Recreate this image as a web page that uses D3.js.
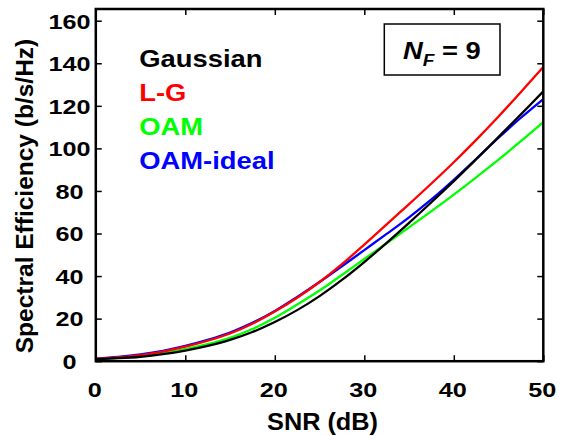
<!DOCTYPE html>
<html>
<head>
<meta charset="utf-8">
<script src="https://cdn.jsdelivr.net/npm/d3@7"></script>
<style>
  body { margin: 0; background: #fff; }
  text { font-family: "Liberation Sans", Arial, sans-serif; font-weight: bold; }
</style>
</head>
<body>
<script>
// SNR samples (dB) and spectral efficiency
const snr = [0, 2.5, 5, 7.5, 10, 12.5, 15, 17.5, 20, 22.5, 25, 27.5, 30, 32.5, 35, 37.5, 40, 42.5, 45, 47.5, 50];
const gaussian = [1.0, 1.4, 2.1, 3.3, 5.0, 7.2, 10.0, 13.7, 18.4, 24.0, 30.6, 38.2, 46.6, 55.6, 65.0, 74.7, 84.6, 94.9, 105.4, 116.0, 126.8];
const lg = [1.1, 1.8, 2.9, 4.5, 6.8, 9.6, 13.0, 17.6, 23.3, 29.8, 37.2, 45.6, 54.8, 64.3, 73.8, 83.5, 93.5, 104.0, 115.0, 126.5, 138.2];
const oam = [1.0, 1.6, 2.5, 3.8, 5.7, 8.0, 11.0, 15.1, 20.4, 26.6, 33.2, 40.5, 48.0, 55.4, 62.9, 70.5, 78.3, 86.4, 94.7, 103.4, 112.3];
const oamIdeal = [1.2, 2.0, 3.2, 4.9, 7.2, 10.0, 13.5, 18.0, 23.6, 30.2, 37.2, 44.6, 52.2, 59.8, 67.6, 76.0, 85.2, 95.0, 105.0, 114.4, 123.2];

const xTicks = [0, 10, 20, 30, 40, 50];
const yTicks = [0, 20, 40, 60, 80, 100, 120, 140, 160];

const seriesNames = ["Gaussian", "L-G", "OAM", "OAM-ideal"];
const seriesColors = ["#000000", "#ff0000", "#00ff00", "#0000ff"];
const seriesData = [gaussian, lg, oam, oamIdeal];

const w = 561, h = 436;
const plotL = 95.8, plotR = 543.3, plotT = 9, plotB = 361.2;

const svg = d3.select("body").append("svg")
    .attr("width", w)
    .attr("height", h)
    .style("background", "#fff");

const x = d3.scaleLinear().domain([0, 50]).range([plotL, plotR]);
const y = d3.scaleLinear().domain([0, 165.5]).range([plotB, plotT]);

// stretched bold text, the figure's fonts are a bit wide
function label(str, px, py, size, sx, anchor, fill) {
    return svg.append("text")
        .attr("transform", `translate(${px},${py}) scale(${sx},1)`)
        .attr("text-anchor", anchor)
        .style("font-size", size + "px")
        .style("fill", fill || "#000")
        .text(str);
}

// curves, black drawn last so it sits on top
const line = d3.line()
    .x((d, i) => x(snr[i]))
    .y(d => y(d))
    .curve(d3.curveCatmullRom);

[3, 2, 1, 0].forEach(k => {
    svg.append("path")
        .datum(seriesData[k])
        .attr("d", line)
        .attr("fill", "none")
        .attr("stroke", seriesColors[k])
        .attr("stroke-width", 2.3);
});

// inward ticks on all four sides
const tickLen = 6;
svg.append("g").attr("transform", `translate(${plotL},0)`)
    .call(d3.axisRight(y).tickValues(yTicks).tickSize(tickLen).tickFormat(""));
svg.append("g").attr("transform", `translate(${plotR},0)`)
    .call(d3.axisLeft(y).tickValues(yTicks).tickSize(tickLen).tickFormat(""));
svg.append("g").attr("transform", `translate(0,${plotB})`)
    .call(d3.axisTop(x).tickValues(xTicks).tickSize(tickLen).tickFormat(""));
svg.append("g").attr("transform", `translate(0,${plotT})`)
    .call(d3.axisBottom(x).tickValues(xTicks).tickSize(tickLen).tickFormat(""));
svg.selectAll(".domain").remove();
svg.selectAll(".tick line").attr("stroke", "#000").attr("stroke-width", 1.5);

// frame
svg.append("rect")
    .attr("x", plotL).attr("y", plotT)
    .attr("width", plotR - plotL).attr("height", plotB - plotT)
    .attr("fill", "none")
    .attr("stroke", "#000")
    .attr("stroke-width", 2.5);

// tick labels
yTicks.forEach(v => label(v, 69.5, y(v) + 7.8, 21, 1.2, "middle"));
xTicks.forEach(v => label(v, x(v) - 1, 397, 21, 1.2, "middle"));

// axis titles
label("SNR (dB)", 322.5, 430, 23, 1.1, "middle");
svg.append("text")
    .attr("transform", "translate(33,196) rotate(-90)")
    .attr("text-anchor", "middle")
    .style("font-size", "24.5px")
    .text("Spectral Efficiency (b/s/Hz)");

// text legend
const legendY = [67, 101, 135, 168.5];
seriesNames.forEach((s, i) => label(s, 139.3, legendY[i], 23, 1.19, "start", seriesColors[i]));

// N_F box
svg.append("rect")
    .attr("x", 384.3).attr("y", 24)
    .attr("width", 115.7).attr("height", 51)
    .attr("fill", "#fff")
    .attr("stroke", "#000")
    .attr("stroke-width", 1.5);

const nf = svg.append("text")
    .attr("transform", "translate(403,59.3) scale(1.19,1)")
    .style("font-size", "23px");
nf.append("tspan").style("font-style", "italic").text("N");
nf.append("tspan").style("font-style", "italic").style("font-size", "16px").attr("dy", 7).text("F");
nf.append("tspan").attr("dy", -7).text(" = 9");
</script>
</body>
</html>
